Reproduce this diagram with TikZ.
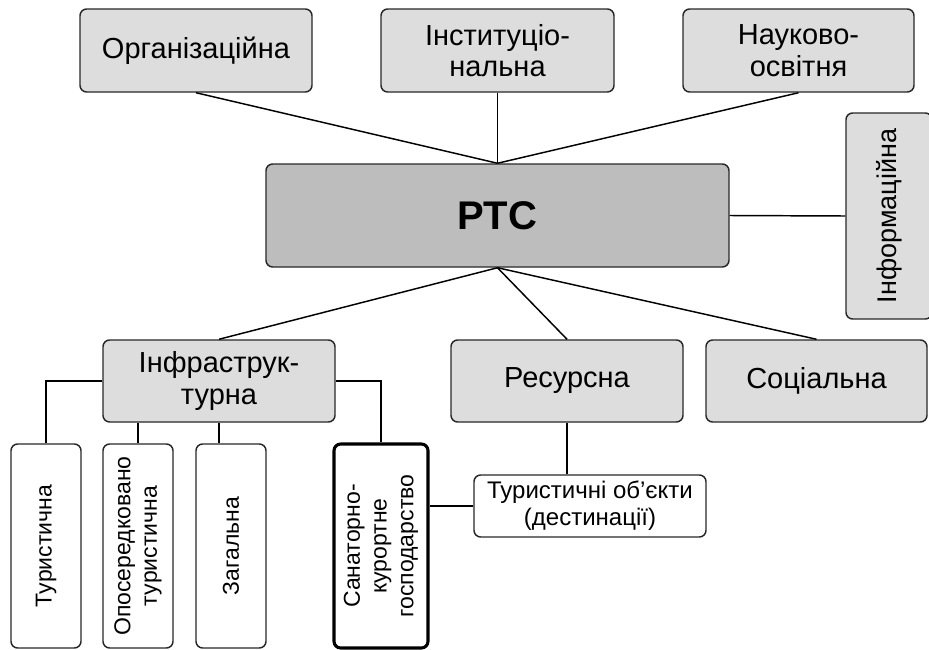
\documentclass[tikz,border=0pt]{standalone}
\usepackage{fontspec}
\setmainfont{Liberation Sans}
\definecolor{boxfill}{RGB}{221,221,221}
\definecolor{ptcfill}{RGB}{189,189,189}
\definecolor{edge}{RGB}{40,40,40}
\begin{document}
\begin{tikzpicture}[x=0.75pt,y=-0.75pt,
  base/.style={draw=edge,line width=1.1pt,rounded corners=5pt,align=center,inner sep=0pt},
  graybox/.style={base,fill=boxfill,font=\fontsize{21.75pt}{23.5pt}\selectfont},
  vbox/.style={base,fill=white,rotate=90,font=\fontsize{17.25pt}{20pt}\selectfont,minimum width=153pt},
  link/.style={draw=black,line width=1.1pt}]
\clip (0,0) rectangle (929,650);
\useasboundingbox (0,0) rectangle (929,650);
% top row
\node[graybox,minimum width=174pt,minimum height=62.25pt] (org) at (196,50.5) {Організаційна};
\node[graybox,minimum width=174.75pt,minimum height=62.25pt] (inst) at (497.5,50.5) {Інституціо-\\нальна};
\node[graybox,minimum width=173.25pt,minimum height=62.25pt] (nauk) at (798.5,50.5) {Науково-\\освітня};
% center
\node[base,fill=ptcfill,minimum width=347.25pt,minimum height=77.25pt,font=\fontsize{30pt}{32pt}\selectfont\bfseries] (ptc) at (497.5,215.5) {РТС};
% info
\node[graybox,rotate=90,minimum width=154.5pt,minimum height=64.5pt,font=\fontsize{20.25pt}{22pt}\selectfont] (info) at (889,216) {Інформаційна};
% middle row
\node[graybox,minimum width=174pt,minimum height=61.5pt] (infra) at (219,381) {Інфраструк-\\турна};
\node[graybox,minimum width=174pt,minimum height=61.5pt] (res) at (567,381) {Ресурсна};
\node[graybox,minimum width=165.75pt,minimum height=61.5pt] (soc) at (816.5,381) {Соціальна};
% bottom row
\node[vbox,minimum height=52.5pt] (tur) at (46,546) {Туристична};
\node[vbox,minimum height=52.5pt] (opos) at (138,546) {Опосередковано\\туристична};
\node[vbox,minimum height=52.5pt] (zag) at (231,546) {Загальна};
\node[vbox,minimum height=70.5pt,line width=2.3pt,draw=black] (san) at (381,546) {Санаторно-\\курортне\\господарство};
\node[base,fill=white,minimum width=174pt,minimum height=46.5pt,font=\fontsize{18pt}{20pt}\selectfont] (obj) at (590,506) {Туристичні об’єкти\\(дестинації)};
% connectors
\draw[link] (org.south) -- (ptc.north);
\draw[link] (inst.south) -- (ptc.north);
\draw[link] (nauk.south) -- (ptc.north);
\draw[link] (ptc.east) -- (info.north);
\draw[link] (ptc.south) -- (infra.north);
\draw[link] (ptc.south) -- (res.north);
\draw[link] (ptc.south) -- (soc.north);
\draw[link] (infra.west) -| (tur.east);
\draw[link] (opos.east) -- (opos.east |- infra.south);
\draw[link] (infra.south) -- (infra.south |- zag.east);
\draw[link] (infra.east) -| (san.east);
\draw[link] (res.south) -- (res.south |- obj.north);
\draw[link] (obj.west) -- (obj.west -| san.south);
\end{tikzpicture}
\end{document}
